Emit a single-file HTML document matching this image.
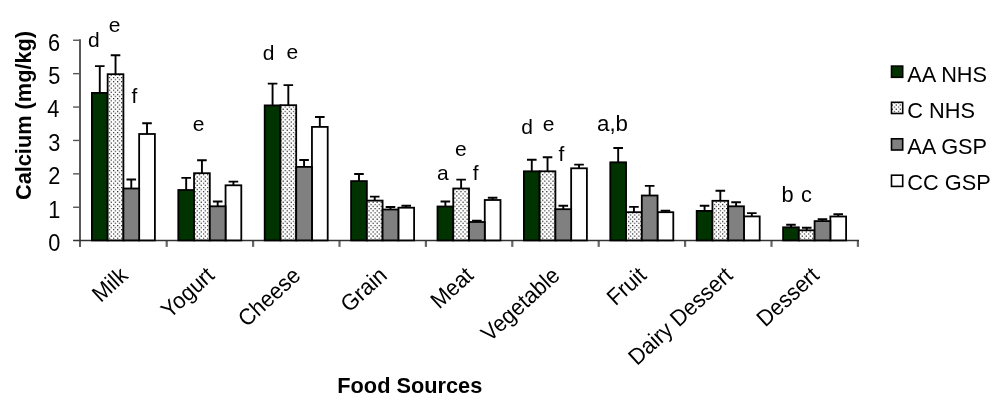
<!DOCTYPE html>
<html><head><meta charset="utf-8"><title>Calcium by food source</title>
<style>
html,body{margin:0;padding:0;background:#fff;}
body{width:1000px;height:406px;overflow:hidden;font-family:"Liberation Sans",sans-serif;}
svg{display:block;filter:blur(0.35px);}
text{font-family:"Liberation Sans",sans-serif;fill:#000;}
.t{font-size:21.75px;}
.a{font-size:21px;}
.b{font-size:21.75px;font-weight:bold;}
</style></head><body>
<svg width="1000" height="406" viewBox="0 0 1000 406">
<defs>
<pattern id="dots" x="112.93" y="76.93" width="4.088" height="4.23" patternUnits="userSpaceOnUse">
<rect width="4.088" height="4.23" fill="#fff"/>
<rect x="0" y="0" width="1.15" height="1.15" fill="#111"/>
<rect x="2.044" y="2.115" width="1.15" height="1.15" fill="#111"/>
</pattern>
</defs>
<rect width="1000" height="406" fill="#fff"/>

<g fill="none">
<line x1="73.1" y1="207.25" x2="80.0" y2="207.25" stroke="#555" stroke-width="1.4"/>
<line x1="73.1" y1="173.85" x2="80.0" y2="173.85" stroke="#555" stroke-width="1.4"/>
<line x1="73.1" y1="140.45" x2="80.0" y2="140.45" stroke="#555" stroke-width="1.4"/>
<line x1="73.1" y1="107.05" x2="80.0" y2="107.05" stroke="#555" stroke-width="1.4"/>
<line x1="73.1" y1="73.65" x2="80.0" y2="73.65" stroke="#555" stroke-width="1.4"/>
<line x1="73.1" y1="40.25" x2="80.0" y2="40.25" stroke="#555" stroke-width="1.4"/>
<line x1="166.70" y1="240.5" x2="166.70" y2="246.90" stroke="#666" stroke-width="2.2"/>
<line x1="253.10" y1="240.5" x2="253.10" y2="246.90" stroke="#666" stroke-width="2.2"/>
<line x1="339.50" y1="240.5" x2="339.50" y2="246.90" stroke="#666" stroke-width="2.2"/>
<line x1="425.90" y1="240.5" x2="425.90" y2="246.90" stroke="#666" stroke-width="2.2"/>
<line x1="512.30" y1="240.5" x2="512.30" y2="246.90" stroke="#666" stroke-width="2.2"/>
<line x1="598.70" y1="240.5" x2="598.70" y2="246.90" stroke="#666" stroke-width="2.2"/>
<line x1="685.10" y1="240.5" x2="685.10" y2="246.90" stroke="#666" stroke-width="2.2"/>
<line x1="771.50" y1="240.5" x2="771.50" y2="246.90" stroke="#666" stroke-width="2.2"/>
<line x1="857.90" y1="240.5" x2="857.90" y2="246.90" stroke="#666" stroke-width="2.2"/>
<line x1="80.0" y1="39.30" x2="80.0" y2="246.90" stroke="#5a5a5a" stroke-width="2"/>
<line x1="73.1" y1="240.5" x2="859.00" y2="240.5" stroke="#333" stroke-width="1.5"/>
</g>
<text class="t" text-anchor="end" transform="translate(60.30 251.20) scale(1 1.065)">0</text>
<text class="t" text-anchor="end" transform="translate(60.30 217.50) scale(1 1.065)">1</text>
<text class="t" text-anchor="end" transform="translate(60.30 184.10) scale(1 1.065)">2</text>
<text class="t" text-anchor="end" transform="translate(60.30 150.70) scale(1 1.065)">3</text>
<text class="t" text-anchor="end" transform="translate(59.30 117.30) scale(1 1.065)">4</text>
<text class="t" text-anchor="end" transform="translate(60.30 83.90) scale(1 1.065)">5</text>
<text class="t" text-anchor="end" transform="translate(60.00 50.50) scale(1 1.065)">6</text>
<g stroke="#000" stroke-width="1.8">
<rect x="139.15" y="134.00" width="15.75" height="106.40" fill="#ffffff"/>
<rect x="91.90" y="92.90" width="15.75" height="147.50" fill="#003300"/>
<rect x="107.65" y="74.20" width="15.75" height="166.20" fill="url(#dots)"/>
<rect x="123.40" y="188.50" width="15.75" height="51.90" fill="#808080"/>
<rect x="225.55" y="185.30" width="15.75" height="55.10" fill="#ffffff"/>
<rect x="178.30" y="190.00" width="15.75" height="50.40" fill="#003300"/>
<rect x="194.05" y="173.20" width="15.75" height="67.20" fill="url(#dots)"/>
<rect x="209.80" y="206.30" width="15.75" height="34.10" fill="#808080"/>
<rect x="311.95" y="126.90" width="15.75" height="113.50" fill="#ffffff"/>
<rect x="264.70" y="105.40" width="15.75" height="135.00" fill="#003300"/>
<rect x="280.45" y="105.20" width="15.75" height="135.20" fill="url(#dots)"/>
<rect x="296.20" y="166.90" width="15.75" height="73.50" fill="#808080"/>
<rect x="398.35" y="207.70" width="15.75" height="32.70" fill="#ffffff"/>
<rect x="351.10" y="181.10" width="15.75" height="59.30" fill="#003300"/>
<rect x="366.85" y="200.60" width="15.75" height="39.80" fill="url(#dots)"/>
<rect x="382.60" y="209.50" width="15.75" height="30.90" fill="#808080"/>
<rect x="484.75" y="200.00" width="15.75" height="40.40" fill="#ffffff"/>
<rect x="437.50" y="206.50" width="15.75" height="33.90" fill="#003300"/>
<rect x="453.25" y="188.50" width="15.75" height="51.90" fill="url(#dots)"/>
<rect x="469.00" y="222.00" width="15.75" height="18.40" fill="#808080"/>
<rect x="571.15" y="168.30" width="15.75" height="72.10" fill="#ffffff"/>
<rect x="523.90" y="171.30" width="15.75" height="69.10" fill="#003300"/>
<rect x="539.65" y="171.30" width="15.75" height="69.10" fill="url(#dots)"/>
<rect x="555.40" y="209.20" width="15.75" height="31.20" fill="#808080"/>
<rect x="657.55" y="212.20" width="15.75" height="28.20" fill="#ffffff"/>
<rect x="610.30" y="162.30" width="15.75" height="78.10" fill="#003300"/>
<rect x="626.05" y="212.20" width="15.75" height="28.20" fill="url(#dots)"/>
<rect x="641.80" y="195.50" width="15.75" height="44.90" fill="#808080"/>
<rect x="743.95" y="216.40" width="15.75" height="24.00" fill="#ffffff"/>
<rect x="696.70" y="210.90" width="15.75" height="29.50" fill="#003300"/>
<rect x="712.45" y="200.80" width="15.75" height="39.60" fill="url(#dots)"/>
<rect x="728.20" y="206.30" width="15.75" height="34.10" fill="#808080"/>
<rect x="830.35" y="216.50" width="15.75" height="23.90" fill="#ffffff"/>
<rect x="783.10" y="227.30" width="15.75" height="13.10" fill="#003300"/>
<rect x="798.85" y="230.30" width="15.75" height="10.10" fill="url(#dots)"/>
<rect x="814.60" y="221.10" width="15.75" height="19.30" fill="#808080"/>
</g>
<g stroke="#000" stroke-width="1.9" fill="none">
<path d="M99.78 92.90V66.10M94.98 66.10H104.58"/>
<path d="M115.53 74.20V55.20M110.73 55.20H120.33"/>
<path d="M131.28 188.50V179.50M126.48 179.50H136.08"/>
<path d="M147.03 134.00V123.30M142.22 123.30H151.83"/>
<path d="M186.18 190.00V177.90M181.38 177.90H190.98"/>
<path d="M201.93 173.20V160.20M197.12 160.20H206.73"/>
<path d="M217.68 206.30V201.50M212.88 201.50H222.48"/>
<path d="M233.43 185.30V181.60M228.62 181.60H238.23"/>
<path d="M272.57 105.40V83.60M267.77 83.60H277.38"/>
<path d="M288.32 105.20V85.10M283.52 85.10H293.12"/>
<path d="M304.07 166.90V160.00M299.27 160.00H308.88"/>
<path d="M319.82 126.90V117.00M315.02 117.00H324.62"/>
<path d="M358.98 181.10V174.00M354.18 174.00H363.78"/>
<path d="M374.73 200.60V196.60M369.93 196.60H379.53"/>
<path d="M390.48 209.50V207.00M385.68 207.00H395.28"/>
<path d="M406.23 207.70V205.80M401.43 205.80H411.03"/>
<path d="M445.38 206.50V201.50M440.57 201.50H450.18"/>
<path d="M461.12 188.50V179.60M456.32 179.60H465.93"/>
<path d="M476.88 222.00V220.70M472.07 220.70H481.68"/>
<path d="M492.62 200.00V197.80M487.82 197.80H497.43"/>
<path d="M531.78 171.30V159.80M526.98 159.80H536.58"/>
<path d="M547.53 171.30V157.30M542.73 157.30H552.33"/>
<path d="M563.28 209.20V205.70M558.48 205.70H568.08"/>
<path d="M579.03 168.30V164.60M574.23 164.60H583.83"/>
<path d="M618.18 162.30V148.00M613.38 148.00H622.98"/>
<path d="M633.93 212.20V206.90M629.13 206.90H638.73"/>
<path d="M649.68 195.50V185.90M644.88 185.90H654.48"/>
<path d="M665.43 212.20V210.70M660.63 210.70H670.23"/>
<path d="M704.58 210.90V205.70M699.78 205.70H709.38"/>
<path d="M720.33 200.80V190.80M715.53 190.80H725.13"/>
<path d="M736.08 206.30V202.30M731.28 202.30H740.88"/>
<path d="M751.83 216.40V213.10M747.03 213.10H756.63"/>
<path d="M790.98 227.30V224.80M786.18 224.80H795.78"/>
<path d="M806.73 230.30V227.80M801.93 227.80H811.53"/>
<path d="M822.48 221.10V219.20M817.68 219.20H827.28"/>
<path d="M838.23 216.50V214.30M833.43 214.30H843.03"/>
</g>
<text class="t" text-anchor="end" transform="translate(129.20 277.20) rotate(-42.5) scale(1 1.05)">Milk</text>
<text class="t" text-anchor="end" transform="translate(215.60 277.20) rotate(-42.5) scale(1 1.05)">Yogurt</text>
<text class="t" text-anchor="end" transform="translate(302.00 277.20) rotate(-42.5) scale(1 1.05)">Cheese</text>
<text class="t" text-anchor="end" transform="translate(388.40 277.20) rotate(-42.5) scale(1 1.05)">Grain</text>
<text class="t" text-anchor="end" transform="translate(474.80 277.20) rotate(-42.5) scale(1 1.05)">Meat</text>
<text class="t" text-anchor="end" transform="translate(561.20 277.20) rotate(-42.5) scale(1 1.05)">Vegetable</text>
<text class="t" text-anchor="end" transform="translate(647.60 277.20) rotate(-42.5) scale(1 1.05)">Fruit</text>
<text class="t" text-anchor="end" transform="translate(734.00 277.20) rotate(-42.5) scale(1 1.05)">Dairy Dessert</text>
<text class="t" text-anchor="end" transform="translate(820.40 277.20) rotate(-42.5) scale(1 1.05)">Dessert</text>
<text style="font-size:21px" x="88.0" y="47.3">d</text>
<text style="font-size:21px" x="108.7" y="31.6">e</text>
<text style="font-size:21px" x="131.5" y="103.2">f</text>
<text style="font-size:21px" x="192.8" y="131.0">e</text>
<text style="font-size:21px" x="262.8" y="59.6">d</text>
<text style="font-size:21px" x="286.5" y="59.0">e</text>
<text style="font-size:21px" x="437.1" y="180.3">a</text>
<text style="font-size:21px" x="455.0" y="156.3">e</text>
<text style="font-size:21px" x="472.8" y="180.3">f</text>
<text style="font-size:21px" x="521.3" y="133.5">d</text>
<text style="font-size:21px" x="542.7" y="131.4">e</text>
<text style="font-size:21px" x="558.4" y="161.2">f</text>
<text style="font-size:22.3px" x="597.0" y="130.7">a,b</text>
<text style="font-size:21.8px" x="781.6" y="201.6">b</text>
<text style="font-size:21.8px" x="801.0" y="201.6">c</text>
<rect x="891.5" y="66.1" width="11.2" height="11.2" fill="#003300" stroke="#000" stroke-width="1.6"/>
<text class="t" transform="translate(907.30 82.00) scale(1 1.05)">AA NHS</text>
<rect x="891.5" y="102.3" width="11.2" height="11.2" fill="url(#dots)" stroke="#000" stroke-width="1.6"/>
<text class="t" transform="translate(907.30 118.00) scale(1 1.05)">C NHS</text>
<rect x="891.5" y="138.8" width="11.2" height="11.2" fill="#808080" stroke="#000" stroke-width="1.6"/>
<text class="t" transform="translate(907.30 154.00) scale(1 1.05)">AA GSP</text>
<rect x="891.5" y="175.2" width="11.2" height="11.2" fill="#ffffff" stroke="#000" stroke-width="1.6"/>
<text class="t" transform="translate(907.30 190.00) scale(1 1.05)">CC GSP</text>
<text class="b" text-anchor="middle" transform="translate(409.80 393.40) scale(1 1.05)">Food Sources</text>
<text class="b" text-anchor="middle" transform="translate(31.30 115.50) rotate(-90) scale(1 1.05)">Calcium (mg/kg)</text>
</svg></body></html>
